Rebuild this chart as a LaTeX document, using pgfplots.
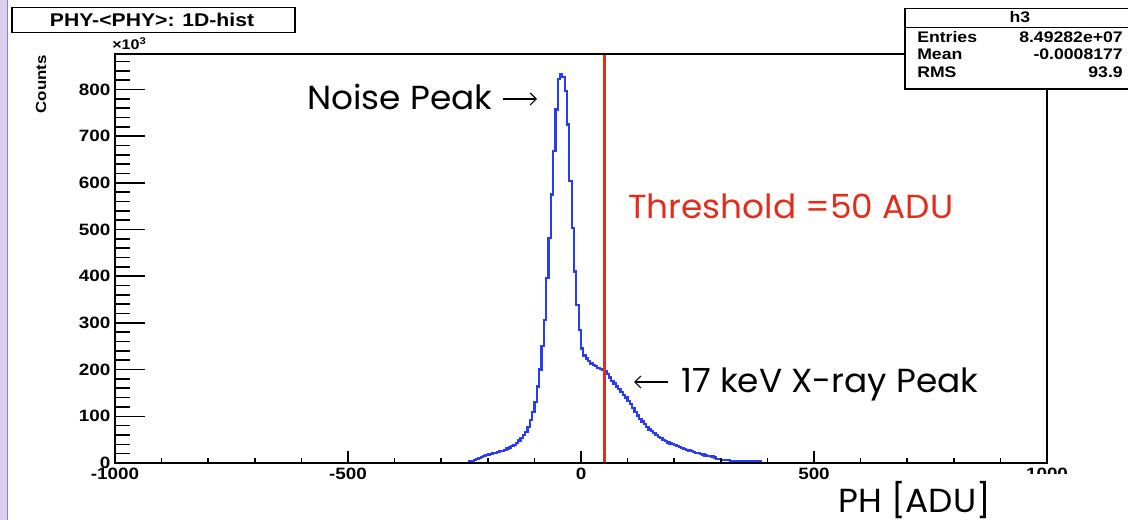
\documentclass[border=0pt]{standalone}
\usepackage{pgfplots}
\pgfplotsset{compat=1.18}
\usepackage{pgfplotstable}
\usepackage{fontspec}
\setmainfont{Liberation Sans}
\newfontfamily\rootfont[FakeStretch=1.15]{Liberation Sans}
\newfontfamily\gothic[FakeStretch=1.03]{Poppins}
\usetikzlibrary{arrows.meta}
\definecolor{histblue}{RGB}{40,60,245}
\definecolor{thrred}{RGB}{225,45,25}
\definecolor{slidepurple}{RGB}{218,205,238}
\definecolor{slideedge}{RGB}{150,120,200}

\pgfplotstableread{
x y
-240 0
-240 3
-235 4
-230 6
-225 8
-220 11
-215 13
-210 15
-205 17
-200 18
-195 20
-190 21
-185 22
-180 24
-175 25
-170 26
-165 28
-160 31
-155 33
-150 36
-145 39
-140 43
-135 48
-130 53
-125 60
-120 67
-115 77
-110 92
-105 110
-100 131
-95 164
-90 200
-85 250
-80 307
-75 396
-70 482
-65 575
-60 668
-55 757
-50 822
-45 833
-40 826
-35 797
-30 725
-25 604
-20 504
-15 410
-10 339
-5 285
0 245
5 230
10 224
15 218
20 213
25 210
30 207
35 204
40 202
45 200
50 196
55 190
60 183
65 176
70 170
75 164
80 158
85 152
90 146
95 140
100 133
105 126
110 118
115 110
120 102
125 95
130 89
135 83
140 77
145 72
150 68
155 64
160 60
165 56
170 53
175 50
180 47
185 44
190 42
195 40
200 38
205 36
210 34
215 32
220 30
225 28
230 27
235 25
240 24
245 22
250 21
255 20
260 18
265 16
270 15
275 15
280 14
285 12
290 9
295 9
300 6
305 6
310 6
315 6
320 4
325 4
330 4
335 4
340 4
345 4
350 4
355 4
360 4
365 4
370 4
375 4
380 4
385 0
}\histtable

\begin{document}
\begin{tikzpicture}
\useasboundingbox (0,0) rectangle (846pt,390pt);
\fill[slidepurple] (0,0) rectangle (5.4pt,390pt);
\draw[slideedge, line width=0.9pt] (5.6pt,0) -- (5.6pt,390pt);

\begin{axis}[
  at={(86.25pt,42.75pt)}, anchor=south west,
  scale only axis, width=699pt, height=306.75pt,
  xmin=-1000, xmax=1000, ymin=0, ymax=876,
  axis line style={line width=1.3pt},
  tick align=inside, ytick pos=left,
  xtick=\empty,
  ytick={0,100,...,800},
  minor ytick={0,20,...,860},
  major tick length=22.5pt, minor tick length=11pt,
  tick style={line width=1.2pt, black},
  /pgf/number format/assume math mode=true,
  yticklabel style={font=\rootfont\bfseries\fontsize{12.3}{13}\selectfont},
]
\addplot[const plot mark left, histblue, line width=1.7pt] table[x=x,y=y] {\histtable};
\addplot[thrred, line width=2pt] coordinates {(50,0) (50,876)};
\end{axis}

\begin{axis}[
  at={(86.25pt,42.75pt)}, anchor=south west,
  scale only axis, width=699pt, height=306.75pt,
  xmin=-1000, xmax=1000, ymin=0, ymax=876,
  axis line style={line width=1.3pt},
  tick align=inside, xtick pos=left,
  ytick=\empty,
  xtick={-1000,-500,0,500,1000},
  xticklabels={-1000,-500,0,500,1000},
  minor xtick={-1000,-900,...,1000},
  major tick length=8.75pt, minor tick length=3.75pt,
  tick style={line width=1.2pt, black},
  xticklabel style={font=\rootfont\bfseries\fontsize{12.3}{13}\selectfont},
]
\addplot[draw=none] coordinates {(0,0)};
\end{axis}

\begin{scope}[x=0.75pt, y=0.75pt]
% cover for clipped label
\fill[white] (990,0) rectangle (1128,46);
% title box
\draw[line width=1.1pt, fill=white] (12,512.5) rectangle (295,487.7);
\node at (152,500) {\rootfont\bfseries\fontsize{13.8}{14}\selectfont PHY-<PHY>: 1D-hist};
% stats box
\draw[line width=1.1pt, fill=white] (905,511.7) rectangle (1140,431);
\draw[line width=1.1pt] (905,492.7) -- (1140,492.7);
\node at (1020,502.5) {\rootfont\bfseries\fontsize{11.5}{12}\selectfont h3};
\node[anchor=west, inner sep=0] at (917,482.7) {\rootfont\bfseries\fontsize{11.5}{12}\selectfont Entries};
\node[anchor=east, inner sep=0] at (1123,482.7) {\rootfont\bfseries\fontsize{11.5}{12}\selectfont 8.49282e+07};
\node[anchor=west, inner sep=0] at (917,465.5) {\rootfont\bfseries\fontsize{11.5}{12}\selectfont Mean};
\node[anchor=east, inner sep=0] at (1123,465.5) {\rootfont\bfseries\fontsize{11.5}{12}\selectfont -0.0008177};
\node[anchor=west, inner sep=0] at (917,448) {\rootfont\bfseries\fontsize{11.5}{12}\selectfont RMS};
\node[anchor=east, inner sep=0] at (1123,448) {\rootfont\bfseries\fontsize{11.5}{12}\selectfont 93.9};
% x10^3 and Counts
\node[anchor=base west, inner sep=0] at (112,470) {\rootfont\bfseries\fontsize{10.5}{11}\selectfont ×10\textsuperscript{3}};
\node[rotate=90, anchor=east, inner sep=0] at (41,465) {\rootfont\bfseries\fontsize{11}{11}\selectfont Counts};
% annotations
\node[anchor=base west, inner sep=0] at (307,410) {\gothic\fontsize{25}{25}\selectfont Noise Peak};
\draw[-{Straight Barb[length=4.5pt,width=9pt]}, line width=0.9pt] (503,421) -- (537,421);
\node[anchor=base west, inner sep=0, text=thrred] at (628,301) {\gothic\fontsize{25}{25}\selectfont Threshold =50 ADU};
\draw[-{Straight Barb[length=4.5pt,width=9pt]}, line width=0.9pt] (668,138) -- (634,138);
\node[anchor=base west, inner sep=0] at (681,127) {\gothic\fontsize{25}{25}\selectfont 17 keV X-ray Peak};
\node[anchor=base west, inner sep=0] at (838,7) {\gothic\fontsize{25}{25}\selectfont PH [ADU]};
\end{scope}
\end{tikzpicture}
\end{document}
